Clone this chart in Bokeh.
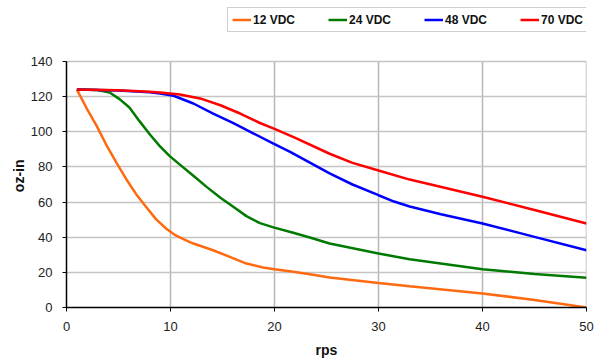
from bokeh.plotting import figure
from bokeh.models import Range1d, Legend, LegendItem, FixedTicker, Title
from bokeh.embed import file_html
from bokeh.resources import INLINE

# ---- data ----
x_ticks = [0, 10, 20, 30, 40, 50]
y_ticks = [0, 20, 40, 60, 80, 100, 120, 140]

series_names = ["12 VDC", "24 VDC", "48 VDC", "70 VDC"]
series_colors = ["#FF6A10", "#007A00", "#0000FF", "#FF0000"]

x_12 = [1, 1.9, 2.9, 3.8, 4.8, 5.75, 6.7, 7.7, 8.6, 9.6, 10.5, 11.5, 12.2, 14.1, 15.7, 17.3, 18.9, 20, 21.8, 23.4, 25.3, 30, 33, 40, 45, 50]
y_12 = [124, 113.8, 103.4, 92.9, 82.5, 73, 64.5, 56.9, 50.3, 44.8, 41, 38.2, 36.4, 32.6, 28.8, 25, 22.8, 21.8, 20.3, 18.9, 17.1, 14, 12.1, 8, 4.3, 0]

x_24 = [1, 3, 4.15, 5.1, 6.05, 7, 8, 8.95, 9.9, 10.9, 12.2, 13.5, 14.8, 16, 17.3, 18.6, 19.9, 21.8, 23.4, 25.3, 30, 33, 40, 45, 50]
y_24 = [124, 123.8, 122.4, 118.6, 113.8, 106.2, 98.6, 92, 86.3, 81.3, 75, 68.5, 62.5, 57.5, 52, 48, 45.6, 42.5, 39.8, 36.4, 30.7, 27.5, 21.8, 19, 16.9]

x_48 = [1, 5, 8, 9, 10.3, 12.2, 14.1, 16, 18, 19.9, 21.5, 25.3, 27.5, 30, 31.5, 33, 36, 40, 45, 50]
y_48 = [124, 123.5, 122.5, 121.8, 120.5, 116.1, 110.4, 105.1, 99, 93.3, 88.6, 76.3, 70, 63.9, 60.3, 57.5, 53.1, 47.8, 40.2, 32.6]

x_70 = [1, 5, 8, 9, 10.9, 12.85, 14.8, 16.7, 18.6, 20, 22, 25.3, 27.5, 30, 33, 40, 45, 50]
y_70 = [124, 123.6, 122.8, 122.3, 121.2, 119, 115.1, 110.4, 105, 101.7, 96.5, 87.5, 82.3, 78, 72.8, 63, 55.5, 47.8]

xs = [x_12, x_24, x_48, x_70]
ys = [y_12, y_24, y_48, y_70]

FONT = "Liberation Sans"

# ---- layout geometry (pixels) ----
W, H = 606, 362
BL, BR, BT, BB = 66, 20, 4, 55          # borders around the frame
PLOT_TOP_PX = 61                         # where the y=140 line sits
frame_h = H - BT - BB
y_top_val = y_ticks[-1] * frame_h / (H - BB - PLOT_TOP_PX)   # frame extends above 140 to host the legend

p = figure(width=W, height=H, output_backend="svg", toolbar_location=None,
           x_range=Range1d(x_ticks[0], x_ticks[-1]), y_range=Range1d(0, y_top_val),
           min_border_left=BL, min_border_right=BR, min_border_top=BT, min_border_bottom=BB,
           background_fill_color="white", border_fill_color="white")

p.outline_line_color = None
p.xgrid.visible = False
p.ygrid.grid_line_color = "#c4c4c4"
p.ygrid.grid_line_width = 1.5

p.xaxis.ticker = FixedTicker(ticks=x_ticks)
p.yaxis.ticker = FixedTicker(ticks=y_ticks)
p.yaxis.bounds = (y_ticks[0], y_ticks[-1])

# vertical grid lines only over the 0..140 plotting area
p.segment(x0=x_ticks[1:], y0=[y_ticks[0]] * 5, x1=x_ticks[1:], y1=[y_ticks[-1]] * 5,
          line_color="#b8b8b8", line_width=1.5, level="underlay")

for ax in (p.xaxis, p.yaxis):
    ax.axis_line_color = "black"
    ax.axis_line_width = 1.5
    ax.major_tick_line_color = "black"
    ax.major_tick_in = 0
    ax.major_tick_out = 4
    ax.minor_tick_line_color = None
    ax.major_label_text_font = FONT
    ax.major_label_text_font_size = "13px"
    ax.major_label_text_color = "#222222"
    ax.axis_label_text_font = FONT
    ax.axis_label_text_font_size = "14px"
    ax.axis_label_text_font_style = "bold"
    ax.axis_label_text_color = "#111111"

p.xaxis.major_label_standoff = 10
p.yaxis.major_label_standoff = 10
p.xaxis.axis_label = "rps"
p.xaxis.axis_label_standoff = 8

# y-axis title, placed over the 0..140 area
ylab = Title(text="oz-in", align="right", text_font=FONT, text_font_size="14px",
             text_font_style="bold", text_color="#111111", offset=155, standoff=2)
p.add_layout(ylab, "left")

renderers = []
for x, y, c in zip(xs, ys, series_colors):
    r = p.line(x, y, line_color=c, line_width=2.5)
    renderers.append(r)

items = [LegendItem(label=n, renderers=[r]) for n, r in zip(series_names, renderers)]
legend = Legend(items=items, orientation="horizontal", location=(161, 275), margin=0,
                padding=4, spacing=30, glyph_width=19, glyph_height=15,
                label_standoff=2, label_width=45, label_height=15,
                label_text_font=FONT, label_text_font_size="12px",
                label_text_font_style="bold", label_text_color="#111111",
                border_line_color="#a0a0a0", border_line_width=1,
                background_fill_color="white", background_fill_alpha=1)
p.add_layout(legend, "center")

open("out.html", "w").write(file_html(p, INLINE))
